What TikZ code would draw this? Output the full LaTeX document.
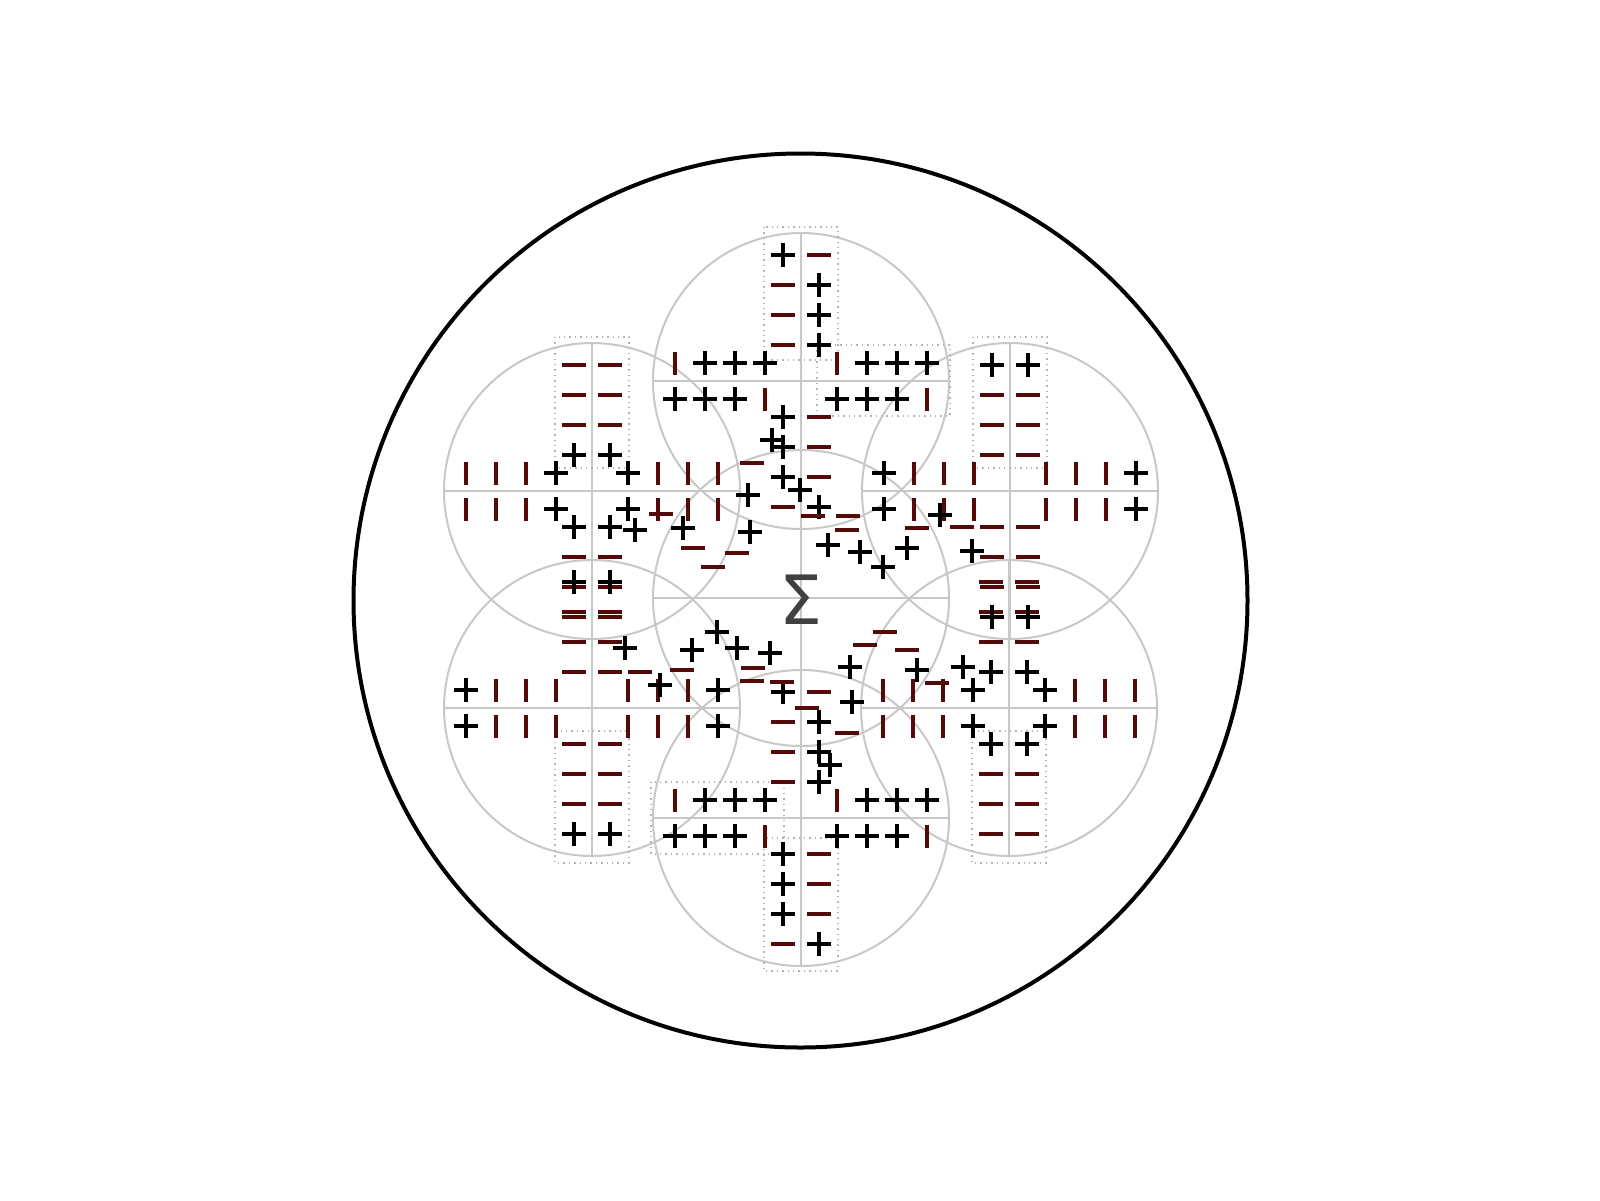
\documentclass[tikz,border=0pt]{standalone}
\usepackage{fontspec}
\newfontfamily\sigfont{DejaVu Sans}
\definecolor{barred}{RGB}{85,10,10}
\definecolor{circgray}{RGB}{200,200,200}
\definecolor{dotgray}{RGB}{180,180,180}
\definecolor{sigcol}{RGB}{64,64,64}
\tikzset{
  plusst/.style={line width=2.4pt,black},
  barst/.style={line width=2.4pt,barred},
  circline/.style={draw=circgray,line width=1pt},
  dotrect/.style={draw=dotgray,dotted,line width=0.7pt},
  outerline/.style={draw=black,line width=2pt}
}
\newcommand\SPl[2]{\draw[plusst] ({#1-12},{#2}) -- ({#1+12},{#2}) ({#1},{#2-12}) -- ({#1},{#2+12});}
\newcommand\SMi[2]{\draw[barst] ({#1-12},{#2}) -- ({#1+12},{#2});}
\newcommand\SVb[2]{\draw[barst] ({#1},{#2-11.5}) -- ({#1},{#2+11.5});}
\newcommand\Sym[3]{\csname S#1\endcsname{#2}{#3}}
\newcommand\VertBand[3]{\foreach \d/\a/\b in #3 {\Sym{\a}{#1-18}{#2+\d}\Sym{\b}{#1+18}{#2+\d}}}
\newcommand\HorzBand[3]{\foreach \d/\a/\b in #3 {\Sym{\a}{#1+\d}{#2-18}\Sym{\b}{#1+\d}{#2+18}}}
\def\vertA{-126/Pl/Mi,-96/Mi/Pl,-66/Mi/Pl,-36/Mi/Pl,36/Pl/Mi,66/Pl/Mi,96/Pl/Mi,126/Mi/Pl}
\def\horzA{-126/Vb/Pl,-96/Pl/Pl,-66/Pl/Pl,-36/Pl/Vb,36/Vb/Pl,66/Pl/Pl,96/Pl/Pl,126/Pl/Vb}
\def\vertB{-126/Mi/Mi,-96/Mi/Mi,-66/Mi/Mi,-36/Pl/Pl,36/Pl/Pl,66/Mi/Mi,96/Mi/Mi,126/Mi/Mi}
\def\horzB{-126/Vb/Vb,-96/Vb/Vb,-66/Vb/Vb,-36/Pl/Pl,36/Pl/Pl,66/Vb/Vb,96/Vb/Vb,126/Vb/Vb}
\def\vertC{-126/Pl/Pl,-96/Mi/Mi,-66/Mi/Mi,-36/Mi/Mi,36/Mi/Mi,66/Mi/Mi,96/Mi/Mi,126/Pl/Pl}
\def\horzC{-126/Pl/Pl,-96/Vb/Vb,-66/Vb/Vb,-36/Vb/Vb,36/Vb/Vb,66/Vb/Vb,96/Vb/Vb,126/Pl/Pl}
\begin{document}
\begin{tikzpicture}[x=0.5pt,y=-0.5pt]
\useasboundingbox (0,0) rectangle (1600,1200);
\fill[white] (0,0) rectangle (1600,1200);
% outer circle
\draw[outerline] (800.5,600.5) circle[radius=447];
% gray circles with diameters
\foreach \cx/\cy in {801/381,592/491,1010/491,801/598,592/708,1009/708,801/818}{
  \draw[circline] (\cx,\cy) circle[radius=148];
  \draw[circline] (\cx-148,\cy) -- (\cx+148,\cy) (\cx,\cy-148) -- (\cx,\cy+148);
}
% dotted arm frames
\draw[dotrect] (764,227) rectangle (838,360);
\draw[dotrect] (817,345) rectangle (950,416);
\draw[dotrect] (764,838) rectangle (838,971);
\draw[dotrect] (651,782) rectangle (784,854);
\draw[dotrect] (555,337) rectangle (629,468);
\draw[dotrect] (973,337) rectangle (1047,468);
\draw[dotrect] (555,731) rectangle (629,863);
\draw[dotrect] (972,731) rectangle (1046,863);
% sign patterns of the six outer circles
\VertBand{801}{381}{\vertA}\HorzBand{801}{381}{\horzA}
\VertBand{801}{818}{\vertA}\HorzBand{801}{818}{\horzA}
\VertBand{592}{491}{\vertB}\HorzBand{592}{491}{\horzB}
\VertBand{1009}{708}{\vertB}\HorzBand{1009}{708}{\horzB}
\VertBand{1010}{491}{\vertC}\HorzBand{1010}{491}{\horzC}
\VertBand{592}{708}{\vertC}\HorzBand{592}{708}{\horzC}
% scattered signs in the central region
\foreach \x/\y in {772/440,800/490,748/495,750/532,683/528,635/530,940/515,828/545,860/552,883/567,907/548,972/551,717/632,692/650,737/648,770/653,625/648,660/685,850/667,917/670,963/667,852/702,830/765}{\SPl{\x}{\y}}
\foreach \x/\y in {752/463,737/553,693/548,713/567,661/514,813/516,848/516,847/530,917/528,962/527,753/668,752/681,782/682,682/670,640/672,885/632,865/645,907/650,937/683,847/733,807/708}{\SMi{\x}{\y}}
% centre symbol
\node[text=sigcol,inner sep=0pt,font=\sigfont\fontsize{34}{34}\selectfont] (sigma) at (801,600) {Σ};
\end{tikzpicture}
\end{document}
